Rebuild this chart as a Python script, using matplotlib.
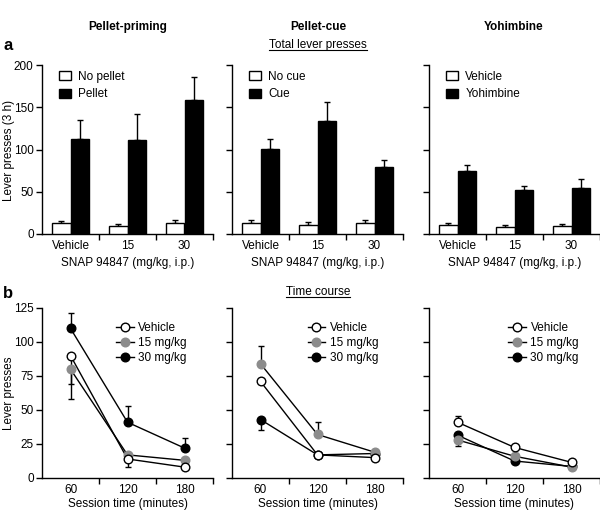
import matplotlib
matplotlib.use("Agg")
import matplotlib.pyplot as plt
from matplotlib.lines import Line2D
from matplotlib.patches import Patch
import numpy as np

plt.rcParams['font.family'] = ['Liberation Sans', 'DejaVu Sans']
plt.rcParams['font.size'] = 8.5

# ---- data: total lever presses (3 h) ----
doses = ["Vehicle", "15", "30"]
panel_titles = ["Pellet-priming", "Pellet-cue", "Yohimbine"]
legend_ctrl = ["No pellet", "No cue", "Vehicle"]
legend_test = ["Pellet", "Cue", "Yohimbine"]

ctrl_mean = [[12.5, 9, 13.5], [12.5, 10.5, 12.5], [10.5, 8.5, 9.5]]
ctrl_err = [[2.5, 3, 3.5], [4.5, 3.5, 4.5], [2.5, 2.5, 2]]
test_mean = [[112, 111, 158], [101, 134, 79], [74, 52, 55]]
test_err = [[23, 31, 28], [11.5, 22, 9], [7.5, 5, 10]]

# ---- data: time course ----
times = [60, 120, 180]
series_names = ["Vehicle", "15 mg/kg", "30 mg/kg"]
veh = [[90, 14, 8], [71, 17, 15], [41, 22.5, 11.5]]
veh_lo = [[21, 6, 0], [0, 0, 0], [0, 0, 0]]
veh_hi = [[0, 0, 0], [0, 0, 0], [4.5, 0, 0]]
d15 = [[80, 17, 13], [84, 32, 19], [28, 16, 8]]
d15_lo = [[22, 0, 0], [0, 0, 0], [4.5, 0, 0]]
d15_hi = [[0, 0, 0], [13, 9, 0], [0, 0, 0]]
d30 = [[110, 41, 22], [43, 17, 18], [31.5, 12.5, 8.5]]
d30_lo = [[0, 0, 0], [8, 0, 0], [0, 0, 0]]
d30_hi = [[11, 12, 7.5], [0, 0, 0], [0, 0, 0]]

W, H = 600, 512
fig = plt.figure(figsize=(W / 100, H / 100), dpi=100)

lefts = [42, 232, 429]
width = 171
top_box = (65, 234)
bot_box = (308, 478)


def make_ax(left, box):
    y_top, y_bot = box
    return fig.add_axes([left / W, 1 - y_bot / H, width / W, (y_bot - y_top) / H])


def style(ax):
    for s in ["top", "right"]:
        ax.spines[s].set_visible(False)
    for s in ["left", "bottom"]:
        ax.spines[s].set_linewidth(1.0)
    ax.tick_params(axis="both", which="both", direction="out", width=1.0, length=4, pad=2)
    ax.tick_params(axis="x", which="major", length=0, pad=4)


# ---- top row: bars ----
bw = 0.32
x = np.arange(len(doses))
for i in range(3):
    ax = make_ax(lefts[i], top_box)
    ax.bar(x - bw / 2, ctrl_mean[i], bw, color="white", edgecolor="black", linewidth=1, zorder=3)
    ax.bar(x + bw / 2, test_mean[i], bw, color="black", edgecolor="black", linewidth=1, zorder=3)
    ax.errorbar(x - bw / 2, ctrl_mean[i], yerr=[[0] * 3, ctrl_err[i]], fmt="none",
                ecolor="black", elinewidth=1, capsize=2, capthick=1, zorder=2)
    ax.errorbar(x + bw / 2, test_mean[i], yerr=[[0] * 3, test_err[i]], fmt="none",
                ecolor="black", elinewidth=1, capsize=2, capthick=1, zorder=2)
    ax.set_xlim(-0.5, 2.5)
    ax.set_ylim(0, 200)
    ax.set_yticks([0, 50, 100, 150, 200])
    ax.set_xticks(x)
    ax.set_xticklabels(doses)
    ax.set_xticks([0.5, 1.5, 2.5], minor=True)
    style(ax)
    if i > 0:
        ax.set_yticklabels([])
    ax.set_xlabel("SNAP 94847 (mg/kg, i.p.)", labelpad=4, fontsize=8.5)
    handles = [Patch(facecolor="white", edgecolor="black", linewidth=1),
               Patch(facecolor="black", edgecolor="black", linewidth=1)]
    ax.legend(handles, [legend_ctrl[i], legend_test[i]], loc="upper left",
              bbox_to_anchor=(0.04, 1.03), frameon=False, handlelength=1.0,
              handleheight=0.8, handletextpad=0.6, labelspacing=0.5, fontsize=8.5)

# ---- bottom row: time course ----
for i in range(3):
    ax = make_ax(lefts[i], bot_box)
    specs = [
        (veh[i], veh_lo[i], veh_hi[i], "white", "black"),
        (d15[i], d15_lo[i], d15_hi[i], "#8c8c8c", "#8c8c8c"),
        (d30[i], d30_lo[i], d30_hi[i], "black", "black"),
    ]
    handles = []
    for k, (m, lo, hi, fc, ec) in enumerate(specs):
        ax.errorbar(times, m, yerr=[lo, hi], fmt="none", ecolor="black",
                    elinewidth=1, capsize=2, capthick=1, zorder=1)
        ax.plot(times, m, color="black", linewidth=1, zorder=2)
        ax.plot(times, m, linestyle="none", marker="o", markersize=6.2,
                markerfacecolor=fc, markeredgecolor=ec, markeredgewidth=1,
                zorder=4 - k * 0.1 if k != 0 else 4.2)
        handles.append(Line2D([], [], color="black", linewidth=1, marker="o",
                              markersize=6.2, markerfacecolor=fc,
                              markeredgecolor=ec, markeredgewidth=1))
    ax.set_xlim(30, 210)
    ax.set_ylim(0, 125)
    ax.set_yticks([0, 25, 50, 75, 100, 125])
    ax.set_xticks(times)
    ax.set_xticks([90, 150, 210], minor=True)
    style(ax)
    if i > 0:
        ax.set_yticklabels([])
    ax.set_xlabel("Session time (minutes)", labelpad=2, fontsize=8.5)
    lx = [0.37, 0.38, 0.40][i]
    ax.legend(handles, series_names, loc="upper left", bbox_to_anchor=(lx, 0.98),
              frameon=False, handlelength=1.5, handletextpad=0.4,
              labelspacing=0.25, fontsize=8.5)

# ---- y labels, headings ----
fig.text(9 / W, 1 - 150 / H, "Lever presses (3 h)", rotation=90, ha="center", va="center", fontsize=8.5)
fig.text(9 / W, 1 - 393 / H, "Lever presses", rotation=90, ha="center", va="center", fontsize=8.5)

title_x = [128, 318, 514]
for tx, t in zip(title_x, panel_titles):
    fig.text(tx / W, 1 - 27 / H, t, ha="center", va="center", fontweight="bold", fontsize=8.5)
fig.text(3 / W, 1 - 46 / H, "a", ha="left", va="center", fontweight="bold", fontsize=12)
fig.text(3 / W, 1 - 293 / H, "b", ha="left", va="center", fontweight="bold", fontsize=12)

renderer = fig.canvas.get_renderer()
for label, yy in [("Total lever presses", 45), ("Time course", 292)]:
    t = fig.text(318 / W, 1 - yy / H, label, ha="center", va="center", fontsize=8.5)
    bb = t.get_window_extent(renderer=renderer).transformed(fig.transFigure.inverted())
    fig.add_artist(Line2D([bb.x0, bb.x1], [bb.y0 + 0.001, bb.y0 + 0.001],
                          color="black", linewidth=0.8, transform=fig.transFigure))

fig.savefig("out.png", dpi=100)
